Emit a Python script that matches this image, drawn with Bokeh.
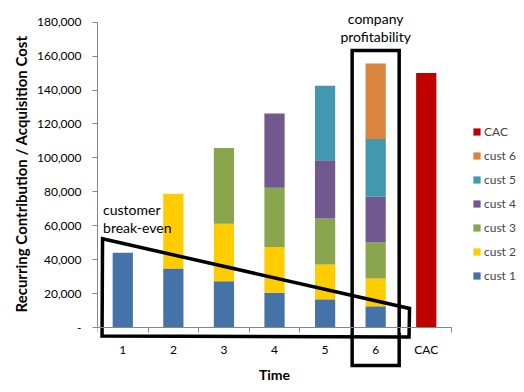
from bokeh.plotting import figure
from bokeh.models import (ColumnDataSource, Range1d, FixedTicker, NumeralTickFormatter,
                          Legend, LegendItem, LinearAxis, Title)
from bokeh.embed import file_html
from bokeh.resources import INLINE
from bokeh.core.properties import value

# ---- data ----
categories = ["1", "2", "3", "4", "5", "6", "CAC"]
cust1 = [44000, 34800, 27200, 20500, 16600, 12500, 0]
cust2 = [0, 44000, 34000, 27000, 20600, 16400, 0]
cust3 = [0, 0, 44600, 34900, 27000, 21200, 0]
cust4 = [0, 0, 0, 43800, 34400, 27000, 0]
cust5 = [0, 0, 0, 0, 44000, 34000, 0]
cust6 = [0, 0, 0, 0, 0, 44500, 0]
cac = [0, 0, 0, 0, 0, 0, 150000]
series_names = ["cust 1", "cust 2", "cust 3", "cust 4", "cust 5", "cust 6"]
y_ticks = [0, 20000, 40000, 60000, 80000, 100000, 120000, 140000, 160000, 180000]

colors = ["#4572A7", "#FFCC00", "#89A54E", "#71588F", "#4198AF", "#DB843D"]
cac_color = "#C00000"
FONT = "Lato"
AXIS_COLOR = "#868686"

x_pos = [i + 1 for i in range(len(categories))]
source = ColumnDataSource(dict(x=x_pos, cust1=cust1, cust2=cust2, cust3=cust3,
                               cust4=cust4, cust5=cust5, cust6=cust6, cac=cac))

p = figure(frame_width=427, frame_height=392, output_backend="svg", toolbar_location=None,
           x_range=Range1d(0.5, 8.943), y_range=Range1d(-38320, 192790),
           x_axis_location=None, y_axis_location=None,
           min_border_left=97, min_border_right=0, min_border_top=0, min_border_bottom=0)
p.outline_line_color = None
p.xgrid.visible = False
p.ygrid.visible = False

# y axis
yaxis = LinearAxis(bounds=(0, 180000), ticker=FixedTicker(ticks=y_ticks, minor_ticks=[]),
                   formatter=NumeralTickFormatter(format="0,0"))
yaxis.major_label_overrides = {0: "-"}
yaxis.axis_line_color = AXIS_COLOR
yaxis.major_tick_line_color = AXIS_COLOR
yaxis.major_tick_in = 0
yaxis.major_tick_out = 5
yaxis.minor_tick_line_color = None
yaxis.major_label_standoff = 11
yaxis.major_label_text_font = FONT
yaxis.major_label_text_font_size = "12px"
yaxis.major_label_text_color = "#000000"
p.add_layout(yaxis, "left")

# y axis title, starting 80px above the frame bottom so it is centred on the axis
p.add_layout(Title(text="Recurring Contribution / Acquisition Cost", align="left",
                   offset=80, text_font=FONT, text_font_style="bold",
                   text_font_size="15px", text_color="#000000"), "left")

# x axis
boundaries = [x - 0.5 for x in x_pos] + [x_pos[-1] + 0.5]
xaxis = LinearAxis(fixed_location=0, bounds=(boundaries[0], boundaries[-1]),
                   ticker=FixedTicker(ticks=x_pos, minor_ticks=boundaries))
xaxis.major_label_overrides = {x: c for x, c in zip(x_pos, categories)}
xaxis.axis_line_color = AXIS_COLOR
xaxis.major_tick_line_color = None
xaxis.minor_tick_line_color = AXIS_COLOR
xaxis.minor_tick_in = 0
xaxis.minor_tick_out = 5
xaxis.major_label_standoff = 8
xaxis.major_label_text_font = FONT
xaxis.major_label_text_font_size = "12px"
xaxis.major_label_text_color = "#000000"
xaxis.axis_label = "Time"
xaxis.axis_label_text_font = FONT
xaxis.axis_label_text_font_style = "bold"
xaxis.axis_label_text_font_size = "14px"
xaxis.axis_label_text_color = "#000000"
xaxis.axis_label_standoff = 6
p.add_layout(xaxis, "below")

# bars
stack_renderers = p.vbar_stack(["cust1", "cust2", "cust3", "cust4", "cust5", "cust6"],
                               x="x", width=0.4, color=colors, line_color=None, source=source)
cac_r = p.vbar(x="x", top="cac", width=0.4, color=cac_color, line_color=None, source=source)

# annotations (black outlines)
p.patch([0.6, 6.67, 6.66, 0.59], [52300, 11200, -5600, -5000], fill_alpha=0,
        line_color="black", line_width=3.5, line_join="miter")
p.quad(left=[5.535], right=[6.465], top=[163300], bottom=[-22400], fill_alpha=0,
       line_color="black", line_width=3.5, line_join="miter")

p.text(x=[0.61, 0.61], y=[69500, 59000], text=["customer", "break-even"],
       text_font=value(FONT), text_font_size="14px", text_align="left",
       text_baseline="middle", text_color="#000000")
p.text(x=[6.0, 6.0], y=[182000, 171800], text=["company", "profitability"],
       text_font=value(FONT), text_font_size="14px", text_align="center",
       text_baseline="middle", text_color="#000000")

# legend
items = [LegendItem(label="CAC", renderers=[cac_r])]
for name, r in reversed(list(zip(series_names, stack_renderers))):
    items.append(LegendItem(label=name, renderers=[r]))
legend = Legend(items=items, location=(375, 109), glyph_width=9, glyph_height=9,
                label_height=9, label_standoff=3, spacing=9, padding=0, margin=0,
                border_line_color=None, background_fill_alpha=0,
                label_text_font=FONT, label_text_font_size="12px")
p.add_layout(legend, "center")

open("out.html", "w").write(file_html(p, INLINE))
